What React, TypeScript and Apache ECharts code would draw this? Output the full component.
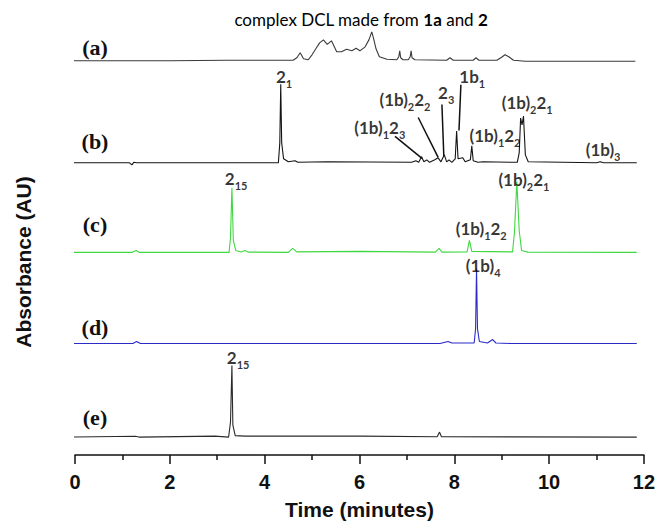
import React, { useEffect, useRef } from "react";
import * as echarts from "echarts";

// Retention time (min) vs. relative absorbance (arbitrary units, baseline = 0)
const traceA: [number, number][] = [
  [-0.04, 0], [2.0, 0], [3.2, 0.5], [4.6, 0.5], [4.68, 3], [4.75, 8], [4.82, 2], [4.92, 1],
  [5.0, 6], [5.08, 12], [5.16, 18], [5.24, 21], [5.32, 16.5], [5.41, 20], [5.47, 14], [5.52, 9],
  [5.62, 9], [5.73, 11.5], [5.84, 10], [5.93, 12.5], [6.01, 10], [6.12, 14], [6.2, 21], [6.26, 29],
  [6.3, 22], [6.35, 12], [6.42, 4], [6.58, 1.5], [6.79, 1], [6.83, 4], [6.85, 10], [6.87, 3],
  [6.92, 1], [7.03, 1], [7.07, 4], [7.09, 10], [7.11, 3], [7.17, 1], [7.84, 0.5], [7.91, 3],
  [7.98, 0.5], [8.4, 0.5], [8.46, 3], [8.52, 0.5], [8.9, 0.5], [9.0, 3.5], [9.07, 6], [9.15, 4],
  [9.25, 0.5], [9.5, -0.5], [11.82, -0.5],
];
const traceB: [number, number][] = [
  [-0.04, 0], [1.15, 0], [1.2, -2], [1.24, 0.5], [1.3, 0], [4.29, 0], [4.32, 20], [4.34, 79],
  [4.36, 20], [4.4, 4], [4.5, 1], [4.64, 2], [4.7, 0.5], [5.32, 1], [7.1, 0.5], [7.19, 2],
  [7.25, 0.5], [7.31, 6], [7.36, 1], [7.42, 3], [7.48, 0.5], [7.59, 3], [7.66, 5], [7.72, 1],
  [7.79, 8], [7.84, 1], [7.89, 3], [7.95, 0.5], [8.02, 4], [8.05, 32], [8.08, 4], [8.18, 5],
  [8.23, 1], [8.34, 3], [8.37, 17], [8.4, 2], [8.5, 0.5], [8.61, 1], [9.33, 0.5], [9.37, 10],
  [9.4, 45], [9.43, 38], [9.46, 47], [9.5, 8], [9.56, 1], [11.0, 0], [11.08, 1], [11.15, 0],
  [11.85, 0],
];
const traceC: [number, number][] = [
  [-0.04, 0], [1.2, 0], [1.29, 2], [1.36, 0], [3.25, 0], [3.28, 15], [3.31, 65], [3.34, 12],
  [3.39, 2], [3.5, 0.5], [3.59, 2], [3.65, 0.3], [4.5, 0], [4.59, 4], [4.68, 0.5], [6.01, 1],
  [7.6, 0.3], [7.68, 4], [7.74, 0.3], [8.27, 0.5], [8.32, 12], [8.37, 1], [9.23, 0.5], [9.27, 20],
  [9.32, 71], [9.37, 22], [9.42, 2], [9.55, 0.3], [11.85, 0],
];
const traceD: [number, number][] = [
  [-0.04, 0], [1.22, 0], [1.3, 2], [1.38, 0], [7.7, 0], [7.87, 2], [7.95, 0.5], [8.42, 0.5],
  [8.45, 15], [8.47, 75], [8.49, 15], [8.53, 2], [8.7, 0.5], [8.81, 4], [8.88, 0.5], [9.2, 0],
  [11.85, 0],
];
const traceE: [number, number][] = [
  [-0.04, 0], [1.27, 0.8], [1.35, 0], [2.95, 1], [3.24, 0], [3.28, 15], [3.31, 72], [3.33, 12],
  [3.38, 1.5], [3.59, 1], [6.01, 1], [7.64, 0.3], [7.69, 5], [7.73, 0.3], [11.85, 0],
];

const traces = [traceA, traceB, traceC, traceD, traceE];
const traceNames = ["(a)", "(b)", "(c)", "(d)", "(e)"];
const traceOffsets = [396, 293.5, 203.5, 112, 18];

const xTicks = [0, 2, 4, 6, 8, 10, 12];

// Peak annotations: rich-text label, anchored at (time, stacked absorbance)
const peakLabelTexts = [
  "{m|2}{s|1}", "{m|1b}{s|1}", "{m|2}{s|3}", "{m|(1b)}{s|2}{m|2}{s|2}", "{m|(1b)}{s|1}{m|2}{s|3}",
  "{m|(1b)}{s|1}{m|2}{s|2}", "{m|(1b)}{s|2}{m|2}{s|1}", "{m|(1b)}{s|3}",
  "{m|2}{s|15}", "{m|(1b)}{s|1}{m|2}{s|2}", "{m|(1b)}{s|2}{m|2}{s|1}",
  "{m|(1b)}{s|4}",
  "{m|2}{s|15}",
];
const peakLabelTimes = [4.41, 8.38, 7.83, 6.96, 6.43, 8.86, 9.54, 11.14, 3.4, 8.57, 9.47, 8.61, 3.44];
const peakLabelLevels = [380, 380, 364, 357, 329, 321, 354, 307, 278, 228, 277, 190, 98];

// Leader lines for trace (b): [t1, y1, t2, y2]
const leaderLines: [number, number, number, number][] = [
  [6.75, 320, 7.32, 298],
  [7.24, 339, 7.66, 299],
  [7.74, 352, 7.78, 300],
  [8.14, 372, 8.1, 326],
];

const traceColors = ["#3a3a3a", "#151515", "#3fd840", "#2b2bc8", "#2a2a2a"];

export default function App() {
  const ref = useRef<HTMLDivElement>(null);
  useEffect(() => {
    document.body.style.margin = "0";
    if (!ref.current) return;
    const chart = echarts.init(ref.current, undefined, { renderer: "svg" });

    const lineSeries = traces.map((tr, i) => ({
      type: "line",
      name: traceNames[i],
      data: tr.map(([t, h]) => [t, h + traceOffsets[i]]),
      showSymbol: false,
      symbol: "none",
      smooth: false,
      lineStyle: { color: traceColors[i], width: 1.1 },
      silent: true,
      z: 2,
    }));

    const labelFont = "Lato";
    const tok = { fontFamily: labelFont, fontWeight: "bold", color: "#000", textBorderWidth: 0 };
    const option: any = {
      animation: false,
      backgroundColor: "#ffffff",
      grid: { left: 75, right: 14, top: 10, bottom: 68 },
      xAxis: {
        type: "value",
        min: xTicks[0],
        max: xTicks[xTicks.length - 1],
        interval: 2,
        name: "Time (minutes)",
        nameLocation: "middle",
        nameGap: 44,
        nameTextStyle: { fontFamily: "Liberation Sans", fontWeight: "bold", fontSize: 21, color: "#111" },
        axisLine: { show: true, onZero: false, lineStyle: { color: "#111", width: 1.5 } },
        axisTick: { show: true, length: 9, lineStyle: { color: "#111", width: 1.5 } },
        minorTick: { show: true, splitNumber: 2, length: 5, lineStyle: { color: "#111", width: 1.5 } },
        splitLine: { show: false },
        minorSplitLine: { show: false },
        axisLabel: { fontFamily: "Liberation Sans", fontWeight: "bold", fontSize: 20, color: "#111", margin: 17 },
      },
      yAxis: { type: "value", min: 0, max: 447, show: false },
      series: [
        ...lineSeries,
        {
          type: "lines",
          coordinateSystem: "cartesian2d",
          polyline: false,
          silent: true,
          lineStyle: { color: "#111", width: 1.5, opacity: 1 },
          data: leaderLines.map(([a, b, c, d]) => ({ coords: [[a, b], [c, d]] })),
          z: 3,
        },
        {
          type: "scatter",
          silent: true,
          symbolSize: 1,
          itemStyle: { color: "rgba(0,0,0,0)" },
          data: peakLabelTimes.map((t, i) => [t, peakLabelLevels[i]]),
          labelLayout: { hideOverlap: false },
          label: {
            show: true,
            position: "inside",
            color: "#000",
            textBorderWidth: 0,
            formatter: (p: any) => peakLabelTexts[p.dataIndex],
            rich: {
              m: { ...tok, fontSize: 17, lineHeight: 20, verticalAlign: "middle" },
              s: { ...tok, fontSize: 11, height: 6, lineHeight: 6, verticalAlign: "bottom" },
            },
          },
          z: 4,
        },
      ],
      graphic: [
        {
          type: "text",
          x: 361,
          y: 19,
          style: {
            text: "{n|complex DCL made from }{b|1a}{n| and }{b|2}",
            align: "center",
            verticalAlign: "middle",
            rich: {
              n: { fontFamily: labelFont, fontSize: 17, color: "#111" },
              b: { fontFamily: labelFont, fontSize: 17, fontWeight: "bold", color: "#111" },
            },
          },
        },
        {
          type: "text",
          x: 23,
          y: 262,
          rotation: Math.PI / 2,
          style: {
            text: "Absorbance (AU)",
            align: "center",
            verticalAlign: "middle",
            fontFamily: "Liberation Sans",
            fontWeight: "bold",
            fontSize: 21,
            fill: "#111",
          },
        },
        ...traceNames.map((nm, i) => ({
          type: "text",
          x: 95,
          y: [47, 141, 224, 327, 417][i],
          style: {
            text: nm,
            align: "center",
            verticalAlign: "middle",
            fontFamily: "Liberation Serif",
            fontWeight: "bold",
            fontSize: 22,
            fill: "#111",
          },
        })),
      ],
    };
    chart.setOption(option);
    return () => chart.dispose();
  }, []);
  return <div ref={ref} style={{ width: 658, height: 525 }} />;
}
